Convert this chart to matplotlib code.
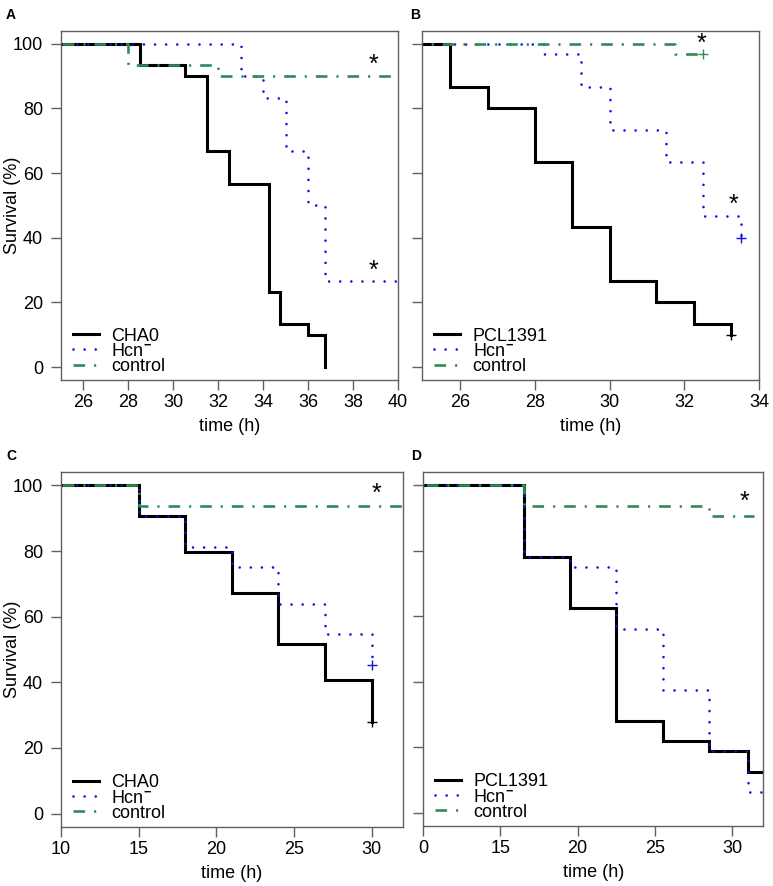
import matplotlib
matplotlib.use("Agg")
import matplotlib.pyplot as plt

plt.rcParams['font.family'] = ['Liberation Sans', 'DejaVu Sans']
plt.rcParams['mathtext.fontset'] = 'custom'
plt.rcParams['mathtext.rm'] = 'Liberation Sans'
plt.rcParams['mathtext.bf'] = 'Liberation Sans:bold'

# ---------------- data ----------------
# Panel A
a_cha0_t = [0, 28.5, 30.5, 31.5, 32.5, 34.25, 34.75, 36.0, 36.75]
a_cha0_s = [100, 93.3, 90.0, 66.7, 56.7, 23.3, 13.3, 10.0, 0.0]
a_hcn_t = [0, 33.0, 34.0, 35.0, 36.0, 36.75, 40.0]
a_hcn_s = [100, 90.0, 83.3, 66.7, 50.0, 26.7, 26.7]
a_ctl_t = [0, 28.0, 32.0, 40.0]
a_ctl_s = [100, 93.3, 90.0, 90.0]

# Panel B
b_pcl_t = [0, 25.75, 26.75, 28.0, 29.0, 30.0, 31.25, 32.25, 33.25]
b_pcl_s = [100, 86.7, 80.0, 63.3, 43.3, 26.7, 20.0, 13.3, 10.0]
b_hcn_t = [0, 28.25, 29.25, 30.0, 31.5, 32.5, 33.5]
b_hcn_s = [100, 96.7, 86.7, 73.3, 63.3, 46.7, 40.0]
b_ctl_t = [0, 31.75, 32.5]
b_ctl_s = [100, 96.7, 96.7]

# Panel C
c_cha0_t = [0, 15, 18, 21, 24, 27, 30]
c_cha0_s = [100, 90.6, 79.7, 67.2, 51.6, 40.6, 28.0]
c_hcn_t = [0, 15, 18, 21, 24, 27, 30]
c_hcn_s = [100, 90.6, 81.2, 75.0, 64.0, 54.7, 45.3]
c_ctl_t = [0, 15, 32]
c_ctl_s = [100, 93.75, 93.75]

# Panel D
d_pcl_t = [0, 16.5, 19.5, 22.5, 25.5, 28.5, 31.0, 32.0]
d_pcl_s = [100, 78.1, 62.5, 28.1, 21.9, 18.75, 12.5, 12.5]
d_hcn_t = [0, 16.5, 19.5, 22.5, 25.5, 28.5, 31.0, 32.0]
d_hcn_s = [100, 78.1, 75.0, 56.25, 37.5, 18.75, 6.25, 6.25]
d_ctl_t = [0, 16.5, 28.5, 31.4]
d_ctl_s = [100, 93.75, 90.6, 90.6]

# censor marks (time, survival)
b_cens_pcl = (33.25, 10.0)
b_cens_hcn = (33.5, 40.0)
b_cens_ctl = (32.5, 96.7)
c_cens_cha0 = (30.0, 28.0)
c_cens_hcn = (30.0, 45.3)

# significance stars (time, survival)
a_stars = [(38.9, 93.3), (38.9, 29.6)]
b_stars = [(32.45, 99.8), (33.3, 50.2)]
c_stars = [(30.3, 97.5)]
d_stars = [(30.8, 95.0)]

a_xticks = [26, 28, 30, 32, 34, 36, 38, 40]
b_xticks = [26, 28, 30, 32, 34]
c_xticks = [10, 15, 20, 25, 30]
d_xticks = [10, 15, 20, 25, 30]
d_xticklabels = ["0", "15", "20", "25", "30"]
y_ticks = [0, 20, 40, 60, 80, 100]

legend_ac = ["CHA0", r"Hcn$^{\mathbf{-}}$", "control"]
legend_bd = ["PCL1391", r"Hcn$^{\mathbf{-}}$", "control"]

# ---------------- styling ----------------
W, H = 773, 886
fig = plt.figure(figsize=(W / 100, H / 100), dpi=100)

def pos(l, r, t, b):
    return [l / W, 1 - b / H, (r - l) / W, (b - t) / H]

BLACK = 'black'
BLUE = '#1010e0'
GREEN = '#2e8b57'
SPINE = '#606060'
FS = 13

style_black = dict(color=BLACK, lw=2.2, solid_joinstyle='miter')
style_blue = dict(color=BLUE, lw=1.9, linestyle=(0, (0.01, 4.2)), dash_capstyle='round')
style_green = dict(color=GREEN, lw=1.9, linestyle=(0, (4.4, 3.4, 0.8, 3.4)))

panels = [
    dict(rect=pos(61, 398, 30.7, 380), xlim=(25, 40), xticks=a_xticks, xtl=None,
         curves=[(a_cha0_t, a_cha0_s), (a_hcn_t, a_hcn_s), (a_ctl_t, a_ctl_s)],
         cens=[], stars=a_stars, legend=legend_ac, ylab=True, letter='A'),
    dict(rect=pos(422.3, 759.3, 30.7, 380), xlim=(25, 34), xticks=b_xticks, xtl=None,
         curves=[(b_pcl_t, b_pcl_s), (b_hcn_t, b_hcn_s), (b_ctl_t, b_ctl_s)],
         cens=[(b_cens_pcl, BLACK), (b_cens_hcn, BLUE), (b_cens_ctl, GREEN)],
         stars=b_stars, legend=legend_bd, ylab=False, letter='B'),
    dict(rect=pos(61, 402.7, 472.3, 826.7), xlim=(10, 32), xticks=c_xticks, xtl=None,
         curves=[(c_cha0_t, c_cha0_s), (c_hcn_t, c_hcn_s), (c_ctl_t, c_ctl_s)],
         cens=[(c_cens_cha0, BLACK), (c_cens_hcn, BLUE)],
         stars=c_stars, legend=legend_ac, ylab=True, letter='C'),
    dict(rect=pos(423, 763.3, 472.3, 825.7), xlim=(10, 32), xticks=d_xticks, xtl=d_xticklabels,
         curves=[(d_pcl_t, d_pcl_s), (d_hcn_t, d_hcn_s), (d_ctl_t, d_ctl_s)],
         cens=[], stars=d_stars, legend=legend_bd, ylab=False, letter='D'),
]

for p in panels:
    ax = fig.add_axes(p['rect'])
    ax.set_xlim(*p['xlim'])
    ax.set_ylim(-4, 104)
    l, b, w, h = p['rect']
    axw, axh = w * W, h * H
    styles = [style_black, style_blue, style_green]
    handles = []
    for (t, s), st, lab in zip(p['curves'], styles, p['legend']):
        hnd, = ax.step(t, s, where='post', label=lab, **st)
        handles.append(hnd)
    for (xy, col) in p['cens']:
        ax.plot([xy[0]], [xy[1]], marker='+', ms=6.5, mew=1.0, color=col, ls='none')
    for (x, y) in p['stars']:
        ax.text(x, y, '*', fontsize=18, ha='center', va='center', color='black')
    ax.set_xticks(p['xticks'])
    if p['xtl'] is not None:
        ax.set_xticklabels(p['xtl'])
    ax.set_yticks(y_ticks)
    if not p['ylab']:
        ax.set_yticklabels([])
    else:
        ax.set_ylabel('Survival (%)', fontsize=FS)
        ax.yaxis.set_label_coords(-40 / axw, 0.5)
    ax.set_xlabel('time (h)', fontsize=FS)
    ax.xaxis.set_label_coords(0.5, -38 / axh)
    for sp in ax.spines.values():
        sp.set_color(SPINE)
        sp.set_linewidth(1.0)
    ax.tick_params(axis='x', direction='out', length=7, width=1.0, color=SPINE,
                   labelsize=FS, pad=3)
    ax.tick_params(axis='y', direction='out', length=7, width=1.0, color=SPINE,
                   labelsize=FS, pad=6)
    ax.legend(handles=handles, loc='lower left', bbox_to_anchor=(12 / axw, 5 / axh),
              frameon=False, fontsize=FS, handlelength=1.45, handletextpad=0.67,
              labelspacing=-0.1, borderpad=0.0, borderaxespad=0.0)
    fig.text(l - 55 / W if p['letter'] in 'AC' else l - 12 / W,
             (b + h) + 16 / H, p['letter'], fontsize=10, fontweight='bold',
             ha='left', va='center')

fig.savefig('out.png', dpi=100)
